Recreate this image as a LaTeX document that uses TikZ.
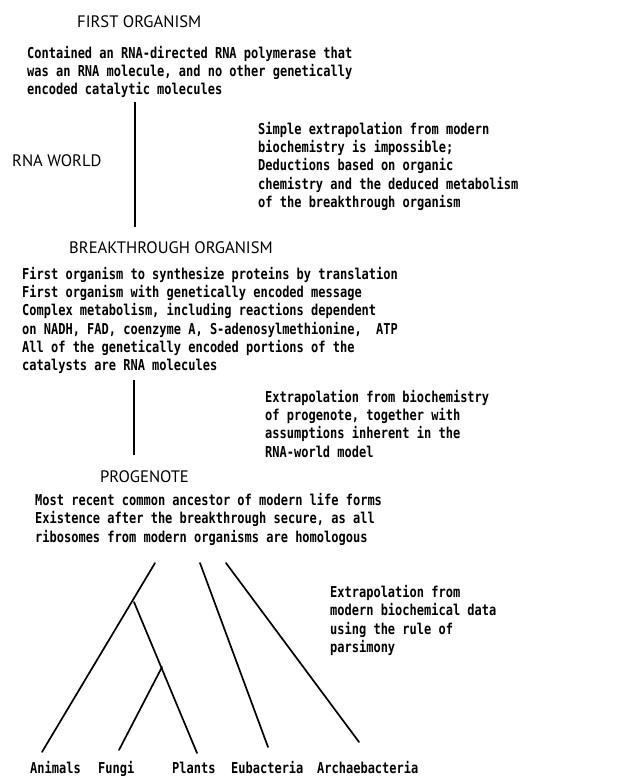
\documentclass[tikz,border=0pt]{standalone}
\usepackage{fontspec}
\setmainfont{PT Sans}
\newfontfamily\chfont{DejaVu Sans Mono}[FakeStretch=0.8]
\usetikzlibrary{positioning}
\tikzset{
  heading/.style={anchor=base west,inner sep=0pt,font=\fontsize{16.6}{20}\selectfont},
  body/.style={anchor=north west,inner sep=0pt,align=left,
    font=\chfont\bfseries\fontsize{15}{18.3}\selectfont},
  leaf/.style={anchor=base west,inner sep=0pt,font=\chfont\bfseries\fontsize{15}{18}\selectfont},
  stem/.style={line width=2.2pt},
  branch/.style={line width=1.7pt,line cap=round}
}

\begin{document}
\begin{tikzpicture}[x=1pt,y=-1pt]
  \useasboundingbox (0,0) rectangle (637,778);

  % stages
  \node[heading] (first) at (77,28) {FIRST ORGANISM};
  \node[body] (firstdesc) at (27,46) {Contained an RNA-directed RNA polymerase that\\
    was an RNA molecule, and no other genetically\\
    encoded catalytic molecules};
  \node[heading] (rnaworld) at (12,167) {RNA WORLD};
  \node[body] (note1) at (258,122) {Simple extrapolation from modern\\
    biochemistry is impossible;\\
    Deductions based on organic\\
    chemistry and the deduced metabolism\\
    of the breakthrough organism};

  \node[heading] (breakthrough) at (69,253) {BREAKTHROUGH ORGANISM};
  \node[body] (breakdesc) at (22,267) {First organism to synthesize proteins by translation\\
    First organism with genetically encoded message\\
    Complex metabolism, including reactions dependent\\
    on NADH, FAD, coenzyme A, S-adenosylmethionine,~~ATP\\
    All of the genetically encoded portions of the\\
    catalysts are RNA molecules};
  \node[body] (note2) at (265,390) {Extrapolation from biochemistry\\
    of progenote, together with\\
    assumptions inherent in the\\
    RNA-world model};

  \node[heading] (progenote) at (100,482) {PROGENOTE};
  \node[body] (progdesc) at (35,493) {Most recent common ancestor of modern life forms\\
    Existence after the breakthrough secure, as all\\
    ribosomes from modern organisms are homologous};
  \node[body] (note3) at (330,585) {Extrapolation from\\
    modern biochemical data\\
    using the rule of\\
    parsimony};

  % stems
  \coordinate (rnatop) at (135,102);
  \coordinate (rnabot) at (135,227);
  \coordinate (progtop) at (134,380);
  \coordinate (progbot) at (134,455);
  \draw[stem] (rnatop) -- (rnabot);
  \draw[stem] (progtop) -- (progbot);

  % tree
  \node[leaf] (animals) at (30,773) {Animals};
  \node[leaf] (fungi) at (98,773) {Fungi};
  \node[leaf] (plants) at (172,773) {Plants};
  \node[leaf] (eubacteria) at (231,773) {Eubacteria};
  \node[leaf] (archaebacteria) at (317,773) {Archaebacteria};

  \coordinate (euktop) at (155,563);
  \coordinate (eubtop) at (200,563);
  \coordinate (archtop) at (226,563);
  \coordinate (splitA) at (134,602);
  \coordinate (splitB) at (162,667);
  \coordinate (animalsend) at (42,752);
  \coordinate (fungiend) at (119,750);
  \coordinate (plantsend) at (197,753);
  \coordinate (eubend) at (268,747);
  \coordinate (archend) at (359,742);

  \draw[branch] (euktop) -- (animalsend);
  \draw[branch] (splitA) -- (plantsend);
  \draw[branch] (splitB) -- (fungiend);
  \draw[branch] (eubtop) -- (eubend);
  \draw[branch] (archtop) -- (archend);
\end{tikzpicture}
\end{document}
